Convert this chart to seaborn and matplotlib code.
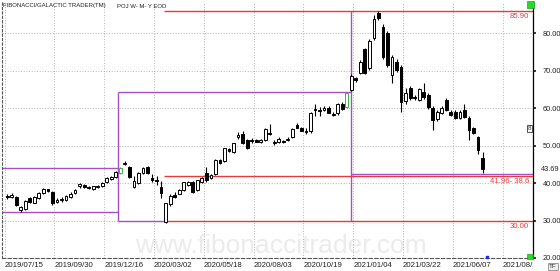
import numpy as np
import pandas as pd
import matplotlib
matplotlib.use("Agg")
import matplotlib.pyplot as plt
import matplotlib.dates as mdates
from matplotlib.transforms import Bbox, TransformedBbox, blended_transform_factory, ScaledTranslation
from matplotlib.patches import Rectangle
import seaborn as sns

# ---------------- data ----------------
first_week = "2019-07-19"
opens = [36.6, 36.3, 36.4, 32.8, 33.0, 36.0, 34.8, 35.9, 37.3, 38.3,
         37.6, 35.0, 35.5, 35.5, 36.3, 37.4, 39.1, 39.4, 38.9, 38.4,
         38.9, 39.1, 40.2, 41.2, 41.5, 42.6, 45.0, 44.2, 39.0, 40.0,
         42.6, 44.2, 41.3, 40.9, 38.9, 29.6, 34.3, 36.8, 37.2, 38.1,
         39.4, 40.2, 38.1, 40.3, 42.6, 41.3, 42.3, 46.1, 45.8, 49.0,
         48.2, 52.2, 53.2, 51.4, 51.4, 51.4, 51.0, 51.5, 53.5, 50.8,
         50.9, 51.3, 51.5, 52.2, 55.6, 54.6, 54.0, 53.8, 59.9, 59.3,
         59.6, 60.0, 58.2, 58.6, 61.2, 60.4, 64.9, 68.1, 69.4, 75.8,
         70.7, 78.7, 85.4, 81.7, 80.1, 68.9, 72.3, 71.0, 61.8, 65.4,
         62.9, 62.2, 64.3, 63.5, 60.1, 57.1, 58.7, 62.2, 59.0, 59.0,
         57.4, 59.5, 57.4, 54.7, 52.3, 46.7]
highs = [37.0, 37.4, 36.6, 34.0, 35.4, 36.3, 36.6, 37.6, 38.6, 38.5,
         37.8, 35.9, 36.2, 36.8, 37.5, 38.3, 40.1, 39.8, 39.2, 39.3,
         39.5, 40.2, 41.5, 42.0, 43.2, 44.2, 45.9, 44.6, 42.0, 43.0,
         44.2, 44.6, 42.3, 42.0, 40.5, 34.8, 37.0, 37.6, 38.4, 40.4,
         40.5, 40.5, 40.9, 41.5, 44.2, 42.3, 46.3, 46.4, 49.5, 49.4,
         50.8, 53.7, 54.0, 51.8, 52.0, 51.8, 51.8, 54.8, 55.8, 51.4,
         52.2, 51.6, 52.2, 54.7, 56.0, 55.0, 54.6, 59.0, 61.0, 60.4,
         60.6, 60.5, 59.0, 61.5, 61.6, 64.4, 69.0, 68.4, 72.8, 76.2,
         78.5, 84.9, 85.9, 82.5, 80.5, 74.3, 73.0, 71.5, 65.5, 65.8,
         63.4, 65.5, 66.7, 64.0, 60.5, 59.5, 60.5, 62.8, 59.5, 59.5,
         59.5, 61.0, 58.0, 55.0, 52.6, 48.3]
lows = [35.8, 35.9, 33.9, 32.3, 32.7, 34.6, 34.6, 35.7, 37.1, 37.6,
        34.2, 34.6, 34.9, 35.2, 36.0, 37.0, 38.8, 38.6, 38.3, 38.2,
        38.6, 38.9, 40.0, 40.9, 41.3, 42.4, 44.7, 41.3, 38.6, 39.8,
        42.4, 42.4, 40.2, 39.6, 36.0, 29.3, 33.8, 36.0, 37.0, 37.8,
        39.2, 37.4, 37.9, 40.1, 40.4, 41.0, 42.1, 45.0, 45.6, 48.3,
        48.0, 51.8, 50.4, 49.0, 50.8, 50.9, 50.8, 51.2, 52.9, 50.2,
        50.6, 50.6, 51.2, 52.0, 54.6, 53.8, 53.2, 53.5, 57.8, 57.9,
        59.3, 58.6, 57.8, 58.3, 59.6, 60.0, 64.5, 67.0, 69.0, 69.0,
        70.3, 78.3, 83.5, 73.0, 71.0, 66.6, 69.6, 59.0, 61.0, 62.2,
        62.2, 61.8, 62.5, 59.8, 54.2, 56.7, 58.4, 59.2, 57.8, 57.0,
        57.0, 57.3, 51.5, 53.0, 47.7, 42.6]
closes = [36.2, 36.8, 34.2, 33.7, 35.2, 34.9, 36.2, 37.3, 38.3, 37.9,
          34.8, 35.5, 35.8, 36.5, 37.2, 38.1, 39.8, 38.9, 38.6, 39.1,
          39.3, 39.9, 41.3, 41.7, 43.0, 43.9, 45.4, 41.5, 40.6, 42.6,
          43.9, 42.6, 40.7, 40.5, 37.4, 34.6, 36.5, 36.4, 38.1, 40.2,
          40.2, 37.6, 40.7, 41.3, 40.7, 42.1, 46.1, 45.3, 49.3, 48.7,
          50.6, 52.8, 50.6, 49.3, 51.2, 51.1, 51.5, 54.4, 53.2, 50.9,
          51.9, 51.0, 51.9, 54.4, 54.8, 54.0, 53.7, 58.6, 59.4, 59.6,
          60.0, 58.8, 58.4, 61.2, 59.9, 64.0, 68.6, 67.5, 72.3, 69.4,
          77.9, 83.8, 84.0, 73.7, 71.5, 73.7, 70.2, 61.7, 64.0, 62.7,
          62.6, 65.1, 63.0, 60.3, 56.9, 59.0, 60.1, 59.5, 58.2, 57.4,
          59.0, 57.7, 54.2, 53.4, 48.9, 43.69]
highlight_bars = [25, 75]

tick_dates = ["2019-07-15", "2019-09-30", "2019-12-16", "2020-03-02", "2020-05-18",
              "2020-08-03", "2020-10-19", "2021-01-04", "2021-03-22", "2021-06-07",
              "2021-08-23"]
tick_labels = ["2019/07/15", "2019/09/30", "2019/12/16", "2020/03/02", "2020/05/18",
               "2020/08/03", "2020/10/19", "2021/01/04", "2021/03/22", "2021/06/07",
               "2021/08/23"]
price_ticks = [20, 30, 40, 50, 60, 70, 80]
last_price = 43.69

# Fibonacci / Galactic levels: (price, start date, end date)
purple_levels = [(43.9, "2019-07-08", "2020-01-06"),
                 (32.2, "2019-07-08", "2020-01-06"),
                 (64.3, "2020-01-06", "2021-01-01"),
                 (30.0, "2020-01-06", "2020-03-17"),
                 (42.3, "2021-01-01", "2021-10-20")]
purple_verticals = [("2020-01-06", 30.0, 64.3), ("2021-01-01", 30.0, 85.9)]
red_levels = [(85.9, "2020-03-17", "2021-10-20"),
              (41.96, "2020-03-17", "2021-10-20"),
              (30.0, "2020-03-17", "2021-10-20")]
red_labels = [(85.9, "85.90"), (41.96, "41.96- 38.6"), (30.0, "30.00")]

title_left = "FIBONACCI/GALACTIC TRADER(TM)"
title_right = "POJ W- M- Y EOD"
watermark = "www.fibonaccitrader.com"

# ---------------- style ----------------
sns.set_theme(style="white")
plt.rcParams["font.family"] = ["Liberation Sans", "DejaVu Sans"]

W, H = 560, 271
fig = plt.figure(figsize=(W / 100, H / 100), dpi=100)
fig.patch.set_facecolor("white")
ax = fig.add_axes([2 / W, (H - 258) / H, (533 - 2) / W, 256 / H])
ax.set_facecolor("white")

df = pd.DataFrame({"date": pd.date_range(first_week, periods=len(opens), freq="7D"),
                   "open": opens, "high": highs, "low": lows, "close": closes})
x = mdates.date2num(df["date"])
o = df["open"].to_numpy()
c = df["close"].to_numpy()
up = c >= o
body_lo = np.minimum(o, c)
body_h = np.maximum(np.abs(c - o), 0.18)

edge_cols = np.array(["black"] * len(df), dtype=object)
edge_cols[highlight_bars] = "#3cb043"

ax.vlines(x, df["low"], df["high"], colors=list(edge_cols), lw=0.8, zorder=3)
ax.bar(x[up], body_h[up], bottom=body_lo[up], width=4.3, facecolor="white",
       edgecolor=list(edge_cols[up]), linewidth=0.7, zorder=4)
ax.bar(x[~up], body_h[~up], bottom=body_lo[~up], width=4.3, facecolor="black",
       edgecolor="black", linewidth=0.7, zorder=4)

purple = "#a64fc0"
red = "#e8393c"
for p, s, e in purple_levels:
    ax.hlines(p, mdates.datestr2num(s), mdates.datestr2num(e), color=purple, lw=1.0, zorder=2)
for d, p0, p1 in purple_verticals:
    ax.vlines(mdates.datestr2num(d), p0, p1, color=purple, lw=1.0, zorder=2)
for p, s, e in red_levels:
    ax.hlines(p, mdates.datestr2num(s), mdates.datestr2num(e), color=red, lw=1.0, zorder=2)

xmin = mdates.datestr2num("2019-07-11")
xmax = mdates.datestr2num("2021-10-09")
ax.set_xlim(xmin, xmax)
ax.set_ylim(20, 88.35)

ax.text(0.525, 0.0, watermark, transform=ax.transAxes, ha="center", va="bottom",
        fontsize=19, color="#ebebeb", zorder=0)

tr = blended_transform_factory(ax.transAxes, ax.transData)
for p, lab in red_labels:
    ax.text(0.993, p - 0.6, lab, transform=tr, ha="right", va="top",
            fontsize=5.6, color=red, zorder=5)

# grid
ax.set_xticks(mdates.datestr2num(tick_dates))
ax.set_xticklabels(tick_labels)
ax.set_yticks(price_ticks)
ax.set_yticklabels([f"{v:.2f}" for v in price_ticks])
ax.grid(True, color="#9a9a9a", ls=(0, (1, 2.2)), lw=0.6)
ax.yaxis.tick_right()
ax.tick_params(axis="y", length=2, pad=5, labelsize=5.3, colors="#222222")
ax.tick_params(axis="x", length=0, pad=3, labelsize=5.6, colors="#222222")
clip = TransformedBbox(Bbox([[0, -1], [1, 1]]), ax.transAxes)
for lbl in ax.get_xticklabels():
    lbl.set_horizontalalignment("left")
    lbl.set_clip_on(True)
    lbl.set_clip_box(clip)

tr_off = tr + ScaledTranslation(7.5 / 100, 0, fig.dpi_scale_trans)
ax.text(1.0, last_price, f"{last_price:.2f}", transform=tr_off, ha="left", va="center",
        fontsize=5.3, color="#222222", clip_on=False)
ax.text(1.0 - 2 / 531, 54.6, "8", transform=tr, ha="right", va="center",
        fontsize=4.5, color="#333333",
        bbox=dict(boxstyle="square,pad=0.15", fc="white", ec="#333333", lw=0.6))

ax.spines["top"].set_visible(False)
ax.spines["right"].set_color("black")
ax.spines["right"].set_linewidth(0.9)
ax.spines["left"].set_linestyle((0, (2, 2)))
ax.spines["left"].set_color("#555555")
ax.spines["left"].set_linewidth(0.8)
ax.spines["bottom"].set_linestyle((0, (3, 2)))
ax.spines["bottom"].set_color("#555555")
ax.spines["bottom"].set_linewidth(0.8)

# next-bar marker
ax.scatter([x[-1] + 7], [20.4], marker="s", s=3, color="#2030d0", zorder=6, clip_on=False)

# header text
fig.text(3 / W, 1 - 3.5 / H, title_left, ha="left", va="top", fontsize=4.3, color="#222222")
fig.text(117 / W, 1 - 3.5 / H, title_right, ha="left", va="top", fontsize=4.3, color="#222222")

# small UI squares
fig.patches.append(Rectangle((527 / W, 1 - 8 / H), 7 / W, 7 / H, transform=fig.transFigure,
                             fc="#22dd22", ec="#118811", lw=0.4))
fig.patches.append(Rectangle((527 / W, 1 - 259 / H), 6 / W, 5 / H, transform=fig.transFigure,
                             fc="#22dd22", ec="#118811", lw=0.4))
fig.text(553 / W, 1 - 266.5 / H, "TF", ha="center", va="center", fontsize=4.5, color="#333333",
         bbox=dict(boxstyle="square,pad=0.15", fc="#eeeeee", ec="#777777", lw=0.5))

fig.savefig("out.png", dpi=100)
